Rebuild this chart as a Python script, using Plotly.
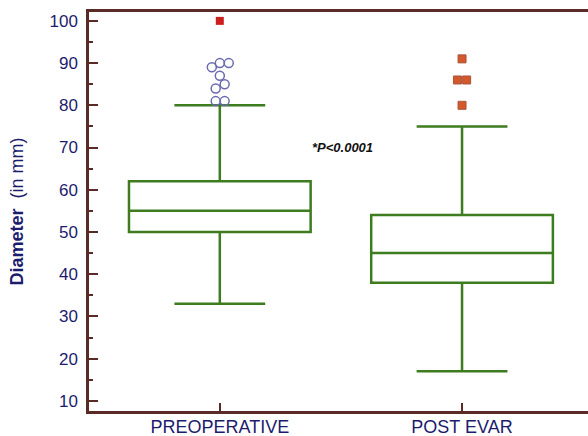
import plotly.graph_objects as go

# ---- data ----
groups = ["PREOPERATIVE", "POST EVAR"]
group_pos = [0, 1]
q1 = [50, 38]
median = [55, 45]
q3 = [62, 54]
lower_whisker = [33, 17]
upper_whisker = [80, 75]

# outliers (preoperative: open circles, far-out red square)
pre_outliers = [81, 81, 84, 85, 87, 89, 90, 90]
pre_outlier_jitter = [-0.017, 0.02, -0.017, 0.02, 0.0, -0.033, 0.0, 0.037]
pre_far_outliers = [100]
post_outliers = [80, 86, 86, 91]
post_outlier_jitter = [0.0, -0.019, 0.019, 0.0]

y_ticks = [10, 20, 30, 40, 50, 60, 70, 80, 90, 100]
annotation_text = "*P<0.0001"

GREEN = "#3d7c1f"
AXIS = "#5a2a26"
NAVY = "#1c1c6e"

fig = go.Figure()

fig.add_trace(go.Box(
    x=group_pos,
    q1=q1, median=median, q3=q3,
    lowerfence=lower_whisker, upperfence=upper_whisker,
    width=0.75, whiskerwidth=0.5,
    line=dict(color=GREEN, width=2.5),
    fillcolor="rgba(0,0,0,0)",
    boxpoints=False,
    showlegend=False,
    hoverinfo="skip",
))

fig.add_trace(go.Scatter(
    x=[group_pos[0] + j for j in pre_outlier_jitter],
    y=pre_outliers, mode="markers",
    marker=dict(symbol="circle-open", size=9, color="#6a6aae", line=dict(width=1.5)),
    showlegend=False,
))
fig.add_trace(go.Scatter(
    x=[group_pos[0]] * len(pre_far_outliers),
    y=pre_far_outliers, mode="markers",
    marker=dict(symbol="square", size=8, color="#cc1f1f", line=dict(width=0)),
    showlegend=False,
))
fig.add_trace(go.Scatter(
    x=[group_pos[1] + j for j in post_outlier_jitter],
    y=post_outliers, mode="markers",
    marker=dict(symbol="square", size=8, color="#d4582a", line=dict(width=1, color="#a8553f")),
    showlegend=False,
))

fig.add_annotation(
    x=0.508, y=70, text="<b><i>" + annotation_text + "</i></b>",
    showarrow=False, font=dict(family="Arial, Liberation Sans, sans-serif", size=13, color="#111111"),
    xanchor="center", yanchor="middle",
)

fig.update_layout(
    width=588, height=436,
    margin=dict(l=89, r=0, t=12, b=25, autoexpand=False),
    paper_bgcolor="white", plot_bgcolor="white",
    font=dict(family="Arial, Liberation Sans, sans-serif", color=NAVY),
    xaxis=dict(
        range=[-0.54, 1.52],
        tickmode="array", tickvals=group_pos, ticktext=groups,
        ticks="inside", ticklen=8, tickwidth=2, tickcolor=AXIS,
        showline=True, linecolor=AXIS, linewidth=2.5, mirror=True,
        showgrid=False, zeroline=False, automargin=False,
        tickfont=dict(size=18, color=NAVY), ticklabelstandoff=-2,
    ),
    yaxis=dict(
        range=[7.6, 102.1],
        tickmode="array", tickvals=y_ticks,
        ticks="inside", ticklen=9, tickwidth=2, tickcolor=AXIS,
        minor=dict(dtick=5, ticks="inside", ticklen=4, tickwidth=1.5, tickcolor=AXIS, showgrid=False),
        showline=True, linecolor=AXIS, linewidth=2.5,
        showgrid=False, zeroline=False, automargin=False,
        tickfont=dict(size=17, color=NAVY), ticklabelstandoff=5,
        title=dict(text="<b>Diameter</b>  (in mm)", font=dict(size=18, color=NAVY), standoff=22),
    ),
)

fig.write_html("out.html", config={"displayModeBar": False},
               post_script="document.body.style.margin='0';")
